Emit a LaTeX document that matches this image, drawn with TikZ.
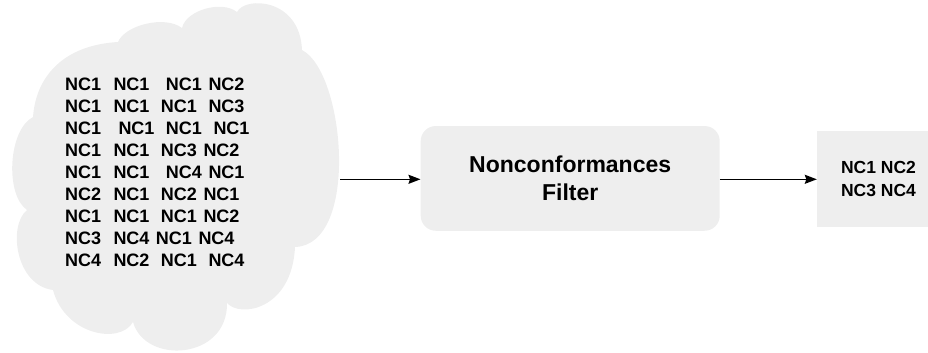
\documentclass[tikz,border=0pt]{standalone}
\usepackage{fontspec}
\setmainfont{Liberation Sans}
\usetikzlibrary{arrows.meta}
\definecolor{paneGray}{RGB}{238,238,238}
\begin{document}
\begin{tikzpicture}[x=1pt,y=-1pt,
  word/.style={anchor=base west,inner sep=0pt,font=\fontsize{18}{22}\selectfont\bfseries},
  panel/.style={fill=paneGray,inner sep=0pt,align=center},
  flow/.style={draw=black,line width=1.4pt,-{Stealth[length=12pt,width=9pt,inset=1.5pt]}}]
\clip (0,0) rectangle (928,353);

% cloud of collected nonconformances
\fill[paneGray] (118,42) .. controls (125,25) and (165,15) .. (182,28)
  .. controls (186,10) and (222,0) .. (237,12)
  .. controls (245,-4) and (300,-2) .. (302,50)
  .. controls (345,72) and (360,245) .. (295,247)
  .. controls (292,310) and (240,318) .. (227,303)
  .. controls (228,360) and (145,365) .. (133,322)
  .. controls (120,345) and (65,335) .. (53,290)
  .. controls (15,285) and (8,225) .. (27,210)
  .. controls (5,195) and (8,130) .. (33,117)
  .. controls (36,75) and (65,45) .. (118,42) -- cycle;

% the words inside the cloud, row by row
\foreach \row/\yb [count=\r] in {
  {65/NC1,113.3/NC1,165.7/NC1,208.3/NC2}/90.7,
  {65/NC1,113.3/NC1,160.7/NC1,208.3/NC3}/112.7,
  {65/NC1,118.3/NC1,165.7/NC1,213.3/NC1}/134.7,
  {65/NC1,113.3/NC1,160.7/NC3,203.3/NC2}/156.7,
  {65/NC1,113.3/NC1,165.7/NC4,208.3/NC1}/178.7,
  {65/NC2,113.3/NC1,160.7/NC2,203.3/NC1}/200.7,
  {65/NC1,113.3/NC1,160.7/NC1,203.3/NC2}/222.7,
  {65/NC3,113.3/NC4,155.7/NC1,198.3/NC4}/244.7,
  {65/NC4,113.3/NC2,160.7/NC1,208.3/NC4}/266.7}{
  \foreach \xw/\t [count=\c] in \row {
    \node[word] (w\r-\c) at (\xw,\yb) {\t};
  }
}

\coordinate (cloudE) at (340,179.3);

% filter stage
\node[panel,rounded corners=15pt,minimum width=299pt,minimum height=104.7pt,
  font=\fontsize{23}{27.4}\selectfont\bfseries] (filter) at (570.2,178.4)
  {Nonconformances\\Filter};

% filtered result
\node[panel,minimum width=123pt,minimum height=95.7pt,
  font=\fontsize{17.5}{22.3}\selectfont\bfseries] (result) at (878.5,178.9)
  {NC1 NC2\\NC3 NC4};

\draw[flow] (cloudE) -- (filter.west |- cloudE);
\draw[flow] (filter.east |- cloudE) -- (result.west |- cloudE);
\end{tikzpicture}
\end{document}
